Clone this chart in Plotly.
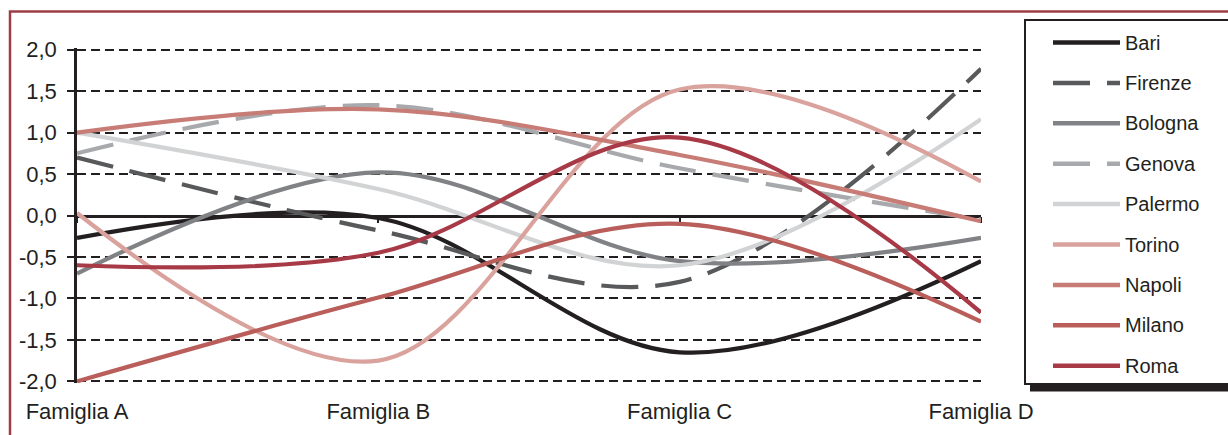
import plotly.graph_objects as go

# Categories and series values (index per family)
categories = ["Famiglia A", "Famiglia B", "Famiglia C", "Famiglia D"]

bari = [-0.27, -0.03, -1.65, -0.55]
firenze = [0.70, -0.18, -0.80, 1.77]
bologna = [-0.70, 0.52, -0.55, -0.27]
genova = [0.75, 1.33, 0.57, -0.05]
palermo = [1.00, 0.32, -0.60, 1.16]
torino = [0.03, -1.75, 1.52, 0.41]
napoli = [1.00, 1.28, 0.73, -0.07]
milano = [-2.00, -0.99, -0.10, -1.28]
roma = [-0.60, -0.45, 0.94, -1.17]

series_names = ["Bari", "Firenze", "Bologna", "Genova", "Palermo",
                "Torino", "Napoli", "Milano", "Roma"]
series_values = [bari, firenze, bologna, genova, palermo,
                 torino, napoli, milano, roma]

y_tick_values = [-2.0, -1.5, -1.0, -0.5, 0.0, 0.5, 1.0, 1.5, 2.0]
y_tick_labels = ["-2,0", "-1,5", "-1,0", "-0,5", "0,0", "0,5", "1,0", "1,5", "2,0"]

# Styling
colors = ["#231f20", "#58595b", "#808285", "#a7a9ac", "#d1d3d4",
          "#daa29d", "#c87c76", "#b95e5a", "#a73a46"]
long_dash = "37px,17px"
dashes = ["solid", long_dash, "solid", long_dash, "solid",
          "solid", "solid", "solid", "solid"]
INK = "#231f20"
FRAME = "#9e3d46"
FONT = "Liberation Sans, Arial, sans-serif"

W, H = 1228, 435
ML, MR, MT, MB = 77, 247, 48, 52
PW, PH = W - ML - MR, H - MT - MB

# small padding so the outermost gridlines are kept inside the plot area
y_pad = 0.02


def paper_x(px):
    return (px - ML) / PW


def paper_y(py):
    return (H - MB - py) / PH


fig = go.Figure()

for name, vals, col, dsh in zip(series_names, series_values, colors, dashes):
    fig.add_trace(go.Scatter(
        x=categories, y=vals, name=name, mode="lines",
        line=dict(color=col, width=4.2, dash=dsh, shape="spline", smoothing=1),
        showlegend=False, hoverinfo="x+y+name",
    ))

# Carrier trace for the category axis drawn along y = 0
fig.add_trace(go.Scatter(
    x=categories, y=[0] * len(categories), xaxis="x2", mode="lines",
    line=dict(width=0, color="rgba(0,0,0,0)"), showlegend=False, hoverinfo="skip",
))

y_min, y_max = y_tick_values[0] - y_pad, y_tick_values[-1] + y_pad

fig.update_layout(
    width=W, height=H,
    margin=dict(l=ML, r=MR, t=MT, b=MB, pad=0),
    paper_bgcolor="white", plot_bgcolor="white",
    font=dict(family=FONT, color=INK, size=22),
    xaxis=dict(
        type="category", categoryorder="array", categoryarray=categories,
        range=[0, len(categories) - 1],
        showgrid=False, zeroline=False, showline=False,
        ticks="", ticklabelstandoff=13,
        tickfont=dict(size=22, color=INK),
    ),
    xaxis2=dict(
        type="category", categoryorder="array", categoryarray=categories,
        range=[0, len(categories) - 1], matches="x",
        overlaying="x", anchor="free",
        position=(0 - y_min) / (y_max - y_min),
        showgrid=False, zeroline=False,
        showline=True, linecolor=INK, linewidth=2.5,
        ticks="outside", ticklen=6, tickwidth=2, tickcolor=INK,
        showticklabels=False, layer="below traces",
    ),
    yaxis=dict(
        range=[y_min, y_max],
        tickvals=y_tick_values, ticktext=y_tick_labels,
        showgrid=True, gridcolor=INK, gridwidth=2, griddash="9px,5px",
        zeroline=False,
        showline=True, linecolor=INK, linewidth=2.5,
        ticks="outside", ticklen=7, tickwidth=2, tickcolor=INK,
        ticklabelstandoff=6,
        tickfont=dict(size=22, color=INK),
        layer="below traces",
    ),
)

shapes = []
# Outer frame of the chart
shapes.append(dict(type="rect", xref="paper", yref="paper",
                   x0=paper_x(10), x1=paper_x(1245),
                   y0=paper_y(450), y1=paper_y(11.5),
                   line=dict(color=FRAME, width=2.5), fillcolor="rgba(0,0,0,0)",
                   layer="below"))
# Legend box with drop shadow
shapes.append(dict(type="rect", xref="paper", yref="paper",
                   x0=paper_x(1030), x1=paper_x(1245),
                   y0=paper_y(391.5), y1=paper_y(27),
                   line=dict(width=0), fillcolor=INK, layer="above"))
shapes.append(dict(type="rect", xref="paper", yref="paper",
                   x0=paper_x(1025), x1=paper_x(1245),
                   y0=paper_y(384), y1=paper_y(20),
                   line=dict(color=INK, width=2), fillcolor="white", layer="above"))

annotations = []
for i, (name, col, dsh) in enumerate(zip(series_names, colors, dashes)):
    yc = 42.5 + 40.4 * i
    shapes.append(dict(type="line", xref="paper", yref="paper",
                       x0=paper_x(1053), x1=paper_x(1120),
                       y0=paper_y(yc), y1=paper_y(yc),
                       line=dict(color=col, width=4.5, dash=dsh), layer="above"))
    annotations.append(dict(xref="paper", yref="paper",
                            x=paper_x(1123), y=paper_y(yc),
                            xanchor="left", yanchor="middle",
                            text=name, showarrow=False,
                            font=dict(family=FONT, size=20, color=INK)))

fig.update_layout(shapes=shapes, annotations=annotations)

fig.write_html("out.html", config={"displayModeBar": False})
